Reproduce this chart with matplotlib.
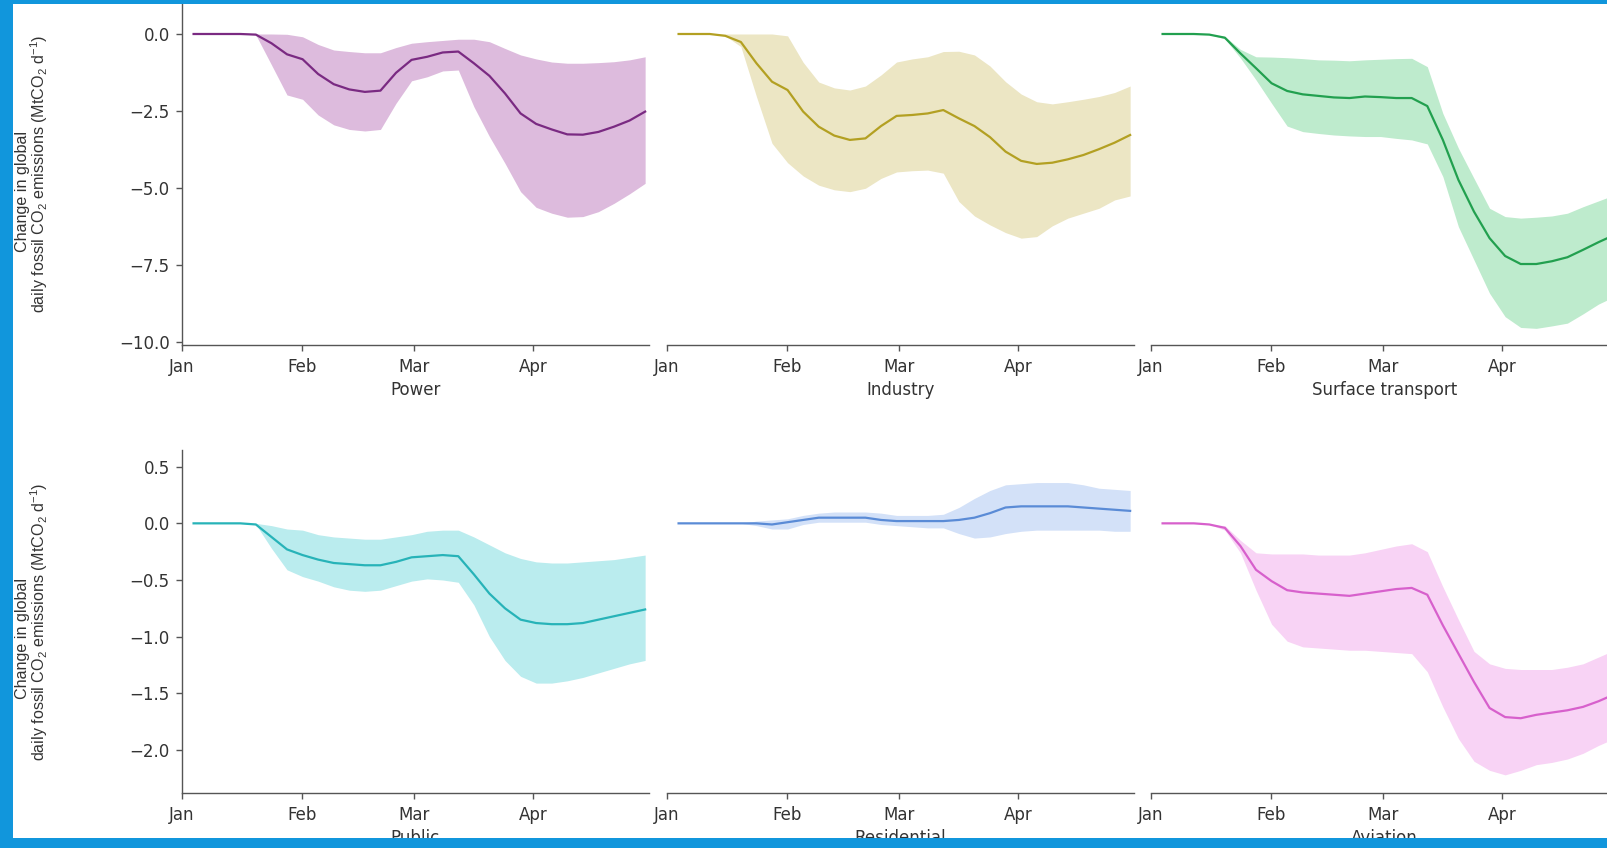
import numpy as np
import pandas as pd
import matplotlib
matplotlib.use("Agg")
import matplotlib.pyplot as plt
import matplotlib.dates as mdates
from matplotlib.patches import Rectangle
from matplotlib import font_manager

# narrow face for the y label when it is available
installed = {f.name for f in font_manager.fontManager.ttflist}
if "Liberation Sans Narrow" in installed:
    ylab_font, ylab_size = "Liberation Sans Narrow", 14.0
else:
    ylab_font, ylab_size = "Liberation Sans", 11.6

plt.rcParams["font.family"] = ["DejaVu Sans"]
plt.rcParams["mathtext.fontset"] = "custom"
plt.rcParams["mathtext.rm"] = ylab_font
plt.rcParams["mathtext.it"] = ylab_font

# sample dates, 2020
dates = pd.date_range("2020-01-04", "2020-04-30", periods=30)

# change in daily emissions (MtCO2/d): central estimate and low/high range
power_mean = [0, 0, 0, 0, -0.02, -0.30, -0.66, -0.82, -1.30, -1.63, -1.80, -1.88, -1.84, -1.26, -0.84,
              -0.74, -0.60, -0.57, -0.95, -1.36, -1.93, -2.58, -2.92, -3.10, -3.26, -3.27, -3.18, -3.01, -2.81, -2.52]
power_high = [0, 0, 0, 0, 0, 0, -0.01, -0.09, -0.34, -0.52, -0.57, -0.61, -0.61, -0.44, -0.30,
              -0.25, -0.21, -0.17, -0.17, -0.25, -0.47, -0.68, -0.81, -0.91, -0.95, -0.95, -0.93, -0.90, -0.84, -0.74]
power_low = [0, 0, 0, 0, -0.03, -1.00, -1.98, -2.12, -2.63, -2.95, -3.10, -3.15, -3.10, -2.25, -1.52,
             -1.39, -1.20, -1.17, -2.36, -3.33, -4.20, -5.12, -5.63, -5.82, -5.95, -5.93, -5.77, -5.50, -5.19, -4.85]

industry_mean = [0, 0, 0, -0.06, -0.26, -0.95, -1.55, -1.82, -2.52, -3.01, -3.30, -3.44, -3.39, -2.99, -2.66,
                 -2.63, -2.58, -2.47, -2.74, -2.99, -3.35, -3.82, -4.12, -4.22, -4.18, -4.07, -3.93, -3.74, -3.53, -3.28]
industry_high = [0, 0, 0, 0, 0, 0, 0, -0.06, -0.92, -1.56, -1.75, -1.82, -1.69, -1.33, -0.91,
                 -0.81, -0.74, -0.57, -0.56, -0.68, -1.04, -1.55, -1.95, -2.20, -2.27, -2.20, -2.12, -2.03, -1.90, -1.69]
industry_low = [0, 0, 0, -0.06, -0.41, -2.03, -3.55, -4.18, -4.61, -4.91, -5.06, -5.12, -5.01, -4.69, -4.48,
                -4.44, -4.42, -4.52, -5.44, -5.91, -6.20, -6.45, -6.63, -6.58, -6.23, -5.98, -5.82, -5.66, -5.39, -5.26]

surface_mean = [0, 0, 0, -0.02, -0.12, -0.63, -1.11, -1.60, -1.85, -1.96, -2.01, -2.06, -2.08, -2.03, -2.05,
                -2.08, -2.08, -2.34, -3.44, -4.74, -5.77, -6.63, -7.21, -7.47, -7.47, -7.38, -7.25, -7.01, -6.76, -6.53]
surface_high = [0, 0, 0, -0.02, -0.08, -0.50, -0.74, -0.75, -0.77, -0.80, -0.84, -0.85, -0.87, -0.84, -0.82,
                -0.80, -0.79, -1.06, -2.58, -3.71, -4.69, -5.66, -5.93, -5.98, -5.95, -5.91, -5.82, -5.61, -5.42, -5.23]
surface_low = [0, 0, 0, -0.02, -0.16, -0.78, -1.49, -2.25, -2.99, -3.17, -3.23, -3.28, -3.31, -3.33, -3.33,
               -3.39, -3.44, -3.57, -4.63, -6.26, -7.34, -8.42, -9.18, -9.53, -9.56, -9.48, -9.39, -9.09, -8.77, -8.53]

public_mean = [0, 0, 0, 0, -0.01, -0.12, -0.23, -0.28, -0.32, -0.35, -0.36, -0.37, -0.37, -0.34, -0.30,
               -0.29, -0.28, -0.29, -0.45, -0.62, -0.75, -0.85, -0.88, -0.89, -0.89, -0.88, -0.85, -0.82, -0.79, -0.76]
public_high = [0, 0, 0, 0, 0, -0.02, -0.05, -0.06, -0.10, -0.12, -0.13, -0.14, -0.14, -0.12, -0.10,
               -0.07, -0.06, -0.06, -0.12, -0.19, -0.26, -0.31, -0.34, -0.35, -0.35, -0.34, -0.33, -0.32, -0.30, -0.28]
public_low = [0, 0, 0, 0, -0.01, -0.22, -0.41, -0.47, -0.51, -0.56, -0.59, -0.60, -0.59, -0.55, -0.51,
              -0.49, -0.50, -0.52, -0.72, -1.00, -1.21, -1.35, -1.41, -1.41, -1.39, -1.36, -1.32, -1.28, -1.24, -1.21]

residential_mean = [0, 0, 0, 0, 0, 0, -0.01, 0.01, 0.03, 0.05, 0.05, 0.05, 0.05, 0.03, 0.02,
                    0.02, 0.02, 0.02, 0.03, 0.05, 0.09, 0.14, 0.15, 0.15, 0.15, 0.15, 0.14, 0.13, 0.12, 0.11]
residential_high = [0, 0, 0, 0, 0, 0.02, 0.03, 0.04, 0.07, 0.09, 0.10, 0.10, 0.10, 0.09, 0.07,
                    0.07, 0.07, 0.08, 0.14, 0.22, 0.29, 0.34, 0.35, 0.36, 0.36, 0.36, 0.34, 0.31, 0.30, 0.29]
residential_low = [0, 0, 0, 0, 0, -0.02, -0.05, -0.05, -0.01, 0.01, 0.01, 0.01, 0.01, -0.01, -0.02,
                   -0.03, -0.04, -0.04, -0.09, -0.13, -0.12, -0.09, -0.07, -0.06, -0.06, -0.06, -0.06, -0.06, -0.07, -0.07]

aviation_mean = [0, 0, 0, -0.01, -0.04, -0.20, -0.41, -0.51, -0.59, -0.61, -0.62, -0.63, -0.64, -0.62, -0.60,
                 -0.58, -0.57, -0.63, -0.90, -1.15, -1.40, -1.63, -1.71, -1.72, -1.69, -1.67, -1.65, -1.62, -1.57, -1.51]
aviation_high = [0, 0, 0, -0.01, -0.02, -0.15, -0.26, -0.27, -0.27, -0.27, -0.28, -0.28, -0.28, -0.26, -0.23,
                 -0.20, -0.18, -0.25, -0.56, -0.85, -1.13, -1.24, -1.28, -1.29, -1.29, -1.29, -1.27, -1.24, -1.18, -1.12]
aviation_low = [0, 0, 0, -0.01, -0.06, -0.26, -0.59, -0.89, -1.04, -1.09, -1.10, -1.11, -1.12, -1.12, -1.13,
                -1.14, -1.15, -1.31, -1.62, -1.90, -2.10, -2.18, -2.22, -2.18, -2.13, -2.11, -2.08, -2.03, -1.96, -1.90]

sector_names = ["Power", "Industry", "Surface transport", "Public", "Residential", "Aviation"]
line_colors = ["#7a2a82", "#b3a022", "#22a04f", "#27b3b8", "#5a8bd6", "#d760cc"]
band_colors = ["#ddbbdd", "#ece6c4", "#beebcd", "#baecee", "#d3e1f8", "#f8d3f5"]

series = [
    (power_mean, power_low, power_high),
    (industry_mean, industry_low, industry_high),
    (surface_mean, surface_low, surface_high),
    (public_mean, public_low, public_high),
    (residential_mean, residential_low, residential_high),
    (aviation_mean, aviation_low, aviation_high),
]

row_ylim = [(-10.1, 1.0), (-2.38, 0.65)]
row_yticks = [[0.0, -2.5, -5.0, -7.5, -10.0], [0.5, 0.0, -0.5, -1.0, -1.5, -2.0]]

ylabel_top = "Change in global"
ylabel_bottom = "daily fossil CO$_2$ emissions (MtCO$_2$ d$^{-1}$)"

W, H = 1608, 848
fig = plt.figure(figsize=(W / 100, H / 100), dpi=100)
fig.patch.set_facecolor("white")

# axes boxes in pixels: left edges, top/bottom of each row
col_left = [182, 667, 1151]
ax_w = 467
row_box = [(3.2, 345.0), (449.7, 793.0)]

text_color = "#333333"
axis_color = "#555555"
for i, name in enumerate(sector_names):
    row, col = divmod(i, 3)
    top, bot = row_box[row]
    ax = fig.add_axes([col_left[col] / W, (H - bot) / H, ax_w / W, (bot - top) / H])
    mean, low, high = series[i]
    ax.fill_between(dates, low, high, color=band_colors[i], lw=0)
    ax.plot(dates, mean, color=line_colors[i], lw=1.6, solid_joinstyle="round")

    ax.set_xlim(pd.Timestamp("2020-01-01"), pd.Timestamp("2020-05-01"))
    ax.set_ylim(*row_ylim[row])
    ax.xaxis.set_major_locator(mdates.MonthLocator(bymonth=[1, 2, 3, 4]))
    ax.xaxis.set_major_formatter(mdates.DateFormatter("%b"))
    ax.set_yticks(row_yticks[row])

    for s in ["top", "right"]:
        ax.spines[s].set_visible(False)
    for s in ["left", "bottom"]:
        ax.spines[s].set_color(axis_color)
        ax.spines[s].set_linewidth(1.0)
    ax.tick_params(axis="both", direction="out", length=4.3, width=1.0, color=axis_color,
                   labelsize=12, labelcolor=text_color)
    ax.tick_params(axis="x", pad=5.0)
    ax.tick_params(axis="y", pad=4.5)
    ax.set_xlabel(name, fontsize=12, color=text_color, labelpad=4)

    if col > 0:
        ax.spines["left"].set_visible(False)
        ax.tick_params(axis="y", left=False, labelleft=False)
    else:
        yc = (top + bot) / 2
        # two-line rotated label; the short first line sits a little lower
        fig.text(22.5 / W, 1 - (yc + 17) / H, ylabel_top, rotation=90, ha="center", va="center",
                 fontsize=ylab_size, family=ylab_font, color=text_color)
        fig.text(39 / W, 1 - yc / H, ylabel_bottom, rotation=90, ha="center", va="center",
                 fontsize=ylab_size, family=ylab_font, color=text_color)

# blue frame on the left, top and bottom
frame = "#1196dc"
for (x0, y0, w, h) in [(0, 0, 13, H), (0, 0, W, 4), (0, 838, W, 10)]:
    fig.add_artist(Rectangle((x0 / W, 1 - (y0 + h) / H), w / W, h / H,
                             transform=fig.transFigure, color=frame, lw=0, zorder=20))

fig.savefig("out.png", dpi=100)
